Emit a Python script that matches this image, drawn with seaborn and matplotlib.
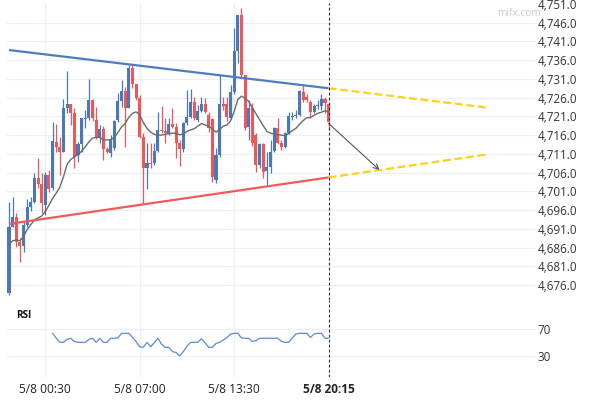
import numpy as np
import pandas as pd
import matplotlib
matplotlib.use("Agg")
import matplotlib.pyplot as plt
import seaborn as sns

# ---------------- data ----------------
time_labels = ["5/8 00:30", "5/8 07:00", "5/8 13:30", "5/8 20:15"]
label_bars = [10, 36, 62, 88]

opens = [4673.9, 4691.6, 4694.1, 4687.5, 4686.4, 4692.0, 4696.9, 4698.2, 4704.5, 4703.0,
         4697.3, 4705.3, 4701.8, 4714.2, 4712.9, 4711.6, 4723.2, 4724.2, 4721.8, 4710.7,
         4713.6, 4720.3, 4720.5, 4725.4, 4720.0, 4715.2, 4717.5, 4712.2, 4711.1, 4712.6,
         4720.0, 4725.1, 4727.8, 4723.3, 4734.0, 4729.6, 4726.0, 4715.6, 4707.1, 4708.6,
         4708.5, 4711.8, 4717.4, 4717.1, 4716.5, 4718.9, 4718.2, 4713.8, 4712.3, 4719.2,
         4720.9, 4724.8, 4720.0, 4722.4, 4724.3, 4721.4, 4720.2, 4704.0, 4710.7, 4724.3,
         4724.3, 4720.5, 4727.6, 4738.4, 4748.1, 4732.0, 4718.2, 4723.2, 4716.0, 4708.0,
         4713.6, 4706.5, 4707.6, 4711.8, 4717.8, 4713.8, 4712.9, 4716.5, 4720.8, 4721.1,
         4721.4, 4727.6, 4726.3, 4724.9, 4722.2, 4723.7, 4723.8, 4725.6, 4724.3]
highs = [4698.2, 4699.6, 4695.2, 4688.5, 4692.9, 4698.9, 4699.6, 4705.8, 4709.8, 4705.9,
         4706.2, 4706.7, 4719.6, 4719.0, 4715.6, 4725.6, 4733.1, 4724.3, 4723.2, 4714.2,
         4720.6, 4722.7, 4731.0, 4725.6, 4723.4, 4718.7, 4718.4, 4712.9, 4716.0, 4720.0,
         4727.3, 4730.7, 4728.8, 4734.7, 4734.7, 4729.6, 4726.7, 4716.5, 4713.8, 4713.8,
         4713.8, 4722.2, 4723.8, 4720.5, 4720.5, 4723.2, 4719.2, 4714.7, 4719.6, 4728.0,
         4728.2, 4726.3, 4724.0, 4726.3, 4726.0, 4722.2, 4720.6, 4712.6, 4732.0, 4726.2,
         4726.3, 4729.4, 4744.5, 4748.1, 4749.8, 4732.0, 4725.4, 4724.5, 4716.5, 4713.9,
         4713.8, 4711.6, 4714.7, 4718.2, 4720.5, 4714.7, 4716.9, 4722.2, 4722.2, 4722.7,
         4728.0, 4729.4, 4727.0, 4725.4, 4724.3, 4725.4, 4727.0, 4726.2, 4724.6]
lows = [4673.3, 4691.5, 4686.2, 4682.1, 4684.9, 4691.6, 4695.8, 4697.8, 4701.8, 4695.2,
        4694.7, 4700.9, 4701.4, 4711.6, 4705.3, 4711.5, 4721.8, 4718.7, 4707.2, 4708.9,
        4711.6, 4717.9, 4720.0, 4719.8, 4714.9, 4713.8, 4709.4, 4711.1, 4710.2, 4712.0,
        4719.6, 4723.6, 4712.9, 4723.2, 4728.5, 4725.4, 4715.2, 4697.6, 4701.5, 4707.1,
        4708.0, 4711.6, 4716.6, 4713.8, 4716.0, 4717.9, 4709.8, 4707.8, 4711.6, 4718.7,
        4720.6, 4720.0, 4719.5, 4722.2, 4721.9, 4716.9, 4703.6, 4703.2, 4710.2, 4722.7,
        4719.8, 4720.3, 4727.1, 4735.2, 4731.5, 4717.4, 4714.7, 4713.1, 4706.2, 4707.2,
        4704.6, 4702.7, 4705.9, 4711.5, 4713.6, 4712.0, 4712.6, 4716.3, 4720.0, 4720.5,
        4721.1, 4724.8, 4724.8, 4720.5, 4721.9, 4723.0, 4722.7, 4721.9, 4717.4]
closes = [4691.6, 4694.1, 4687.5, 4686.4, 4692.0, 4696.7, 4698.2, 4704.5, 4703.0, 4697.8,
          4705.3, 4701.6, 4714.4, 4712.9, 4711.6, 4723.2, 4724.2, 4721.8, 4710.2, 4713.6,
          4720.5, 4720.6, 4725.4, 4720.5, 4715.6, 4717.5, 4712.2, 4711.6, 4714.9, 4719.8,
          4725.1, 4727.8, 4723.3, 4734.0, 4729.6, 4726.0, 4715.6, 4707.1, 4708.5, 4708.3,
          4711.8, 4717.4, 4717.1, 4716.5, 4718.9, 4718.2, 4713.8, 4712.3, 4719.2, 4720.9,
          4724.8, 4720.5, 4722.4, 4724.3, 4722.2, 4717.8, 4704.9, 4710.7, 4724.3, 4723.8,
          4720.9, 4727.6, 4738.4, 4748.1, 4732.0, 4717.8, 4723.2, 4713.8, 4708.0, 4713.6,
          4706.2, 4707.6, 4711.6, 4717.8, 4713.8, 4712.9, 4716.5, 4721.1, 4721.1, 4721.4,
          4727.8, 4725.4, 4725.4, 4722.2, 4723.8, 4724.0, 4725.6, 4724.5, 4719.6]
ma_line = [4686.8, 4687.8, 4688.0, 4687.8, 4688.9, 4690.8, 4692.1, 4693.4, 4693.9, 4694.4,
           4695.6, 4697.3, 4699.1, 4700.5, 4702.1, 4704.9, 4708.2, 4709.5, 4710.2, 4710.8,
           4711.7, 4712.9, 4714.2, 4715.2, 4715.4, 4715.4, 4714.7, 4714.7, 4714.8, 4715.4,
           4716.7, 4718.2, 4719.1, 4720.8, 4721.8, 4722.2, 4721.4, 4719.3, 4717.8, 4716.8,
           4716.2, 4716.0, 4716.0, 4716.2, 4716.4, 4716.5, 4716.5, 4716.1, 4716.3, 4717.0,
           4717.4, 4717.7, 4718.4, 4719.1, 4718.7, 4718.4, 4717.6, 4716.8, 4717.5, 4718.4,
           4718.7, 4719.8, 4722.3, 4725.5, 4726.4, 4725.8, 4725.0, 4723.3, 4721.7, 4720.1,
           4718.5, 4717.0, 4716.5, 4716.3, 4716.1, 4716.0, 4715.8, 4716.4, 4717.2, 4717.8,
           4718.9, 4719.9, 4720.6, 4720.7, 4721.3, 4721.8, 4722.1, 4722.5, 4722.2]

rsi_first_bar = 12
rsi_values = [64, 57, 50.7, 50.7, 55, 56.7, 52, 50.7, 50.7, 50.7,
              55, 56.7, 50.7, 56.7, 50.7, 50.7, 56.7, 56.7, 57.5, 64,
              64, 64, 58, 51.5, 44, 43.3, 50.7, 44, 50, 56.7,
              48, 43.3, 43.3, 37, 35.5, 30.5, 37, 45, 50.7, 50.7,
              50.7, 56, 50, 43.3, 43.3, 49, 50.7, 54, 57.8, 63,
              64, 64, 57, 56.7, 56.7, 52, 53, 56.7, 56.7, 56.7,
              56.7, 56.7, 56.7, 52, 50.7, 50.7, 57, 63, 64, 64,
              64, 58, 63, 64, 64, 56.7, 56.7]

upper_trend_x = [0, 88]
upper_trend_y = [4738.7, 4728.5]
upper_proj_x = [88, 132]
upper_proj_y = [4728.5, 4723.3]
lower_trend_x = [0, 88]
lower_trend_y = [4692.3, 4704.7]
lower_proj_x = [88, 132]
lower_proj_y = [4704.7, 4710.9]
arrow_start = (88, 4719.1)
arrow_end = (102, 4706.7)

price_ticks = [4676.0, 4681.0, 4686.0, 4691.0, 4696.0, 4701.0, 4706.0, 4711.0,
               4716.0, 4721.0, 4726.0, 4731.0, 4736.0, 4741.0, 4746.0, 4751.0]
rsi_ticks = [30, 70]

# ---------------- style ----------------
sns.set_theme(style="white")
plt.rcParams['font.family'] = ['Open Sans', 'DejaVu Sans']

UP = '#4a78b8'
DOWN = '#ef5656'
GRID = '#ecf0f4'
TXT = '#333333'

W, H = 590, 400
fig = plt.figure(figsize=(W / 100, H / 100), dpi=100)
ax = fig.add_axes([7 / W, 1 - 300 / H, 529 / W, 297 / H])
ax2 = fig.add_axes([7 / W, 1 - 377 / H, 529 / W, 77 / H])

xlim = (-0.55, 145.1)

df = pd.DataFrame({"bar": np.arange(len(opens)), "open": opens, "high": highs,
                   "low": lows, "close": closes, "ma": ma_line})
df["color"] = np.where(df["close"] >= df["open"], UP, DOWN)

# ---------------- main panel ----------------
ax.set_xlim(*xlim)
ax.set_ylim(4671.99, 4751.26)
ax.set_yticks(price_ticks)
ax.set_yticklabels([f"{v:,.1f}" for v in price_ticks])
ax.yaxis.tick_right()
ax.tick_params(axis='y', length=0, pad=1.2, labelsize=8.4, colors=TXT)
ax.set_xticks(label_bars)
ax.tick_params(axis='x', length=0, labelbottom=False)
ax.grid(True, color=GRID, lw=0.9)
ax.set_axisbelow(True)
for s in ax.spines.values():
    s.set_visible(False)
ax.yaxis.get_gridlines()[-1].set_visible(False)

ax.vlines(df["bar"], df["low"], df["high"], colors=df["color"], lw=0.9, zorder=2)
body_bottom = np.minimum(df["open"], df["close"])
body_h = np.maximum(np.abs(df["close"] - df["open"]), 0.3)
ax.bar(df["bar"], body_h, bottom=body_bottom, width=0.84, color=df["color"],
       lw=0, zorder=3)

sns.lineplot(data=df, x="bar", y="ma", ax=ax, color='#6a6a6a', lw=1.0,
             legend=False, zorder=4)

ax.plot(upper_trend_x, upper_trend_y, color='#4d7cc0', lw=1.6, zorder=5,
        solid_capstyle='butt')
ax.plot(lower_trend_x, lower_trend_y, color='#f05a5a', lw=1.6, zorder=5,
        solid_capstyle='butt')
ax.plot(upper_proj_x, upper_proj_y, color='#ffd21a', lw=1.6, zorder=5,
        dashes=(3.6, 1.6))
ax.plot(lower_proj_x, lower_proj_y, color='#ffd21a', lw=1.6, zorder=5,
        dashes=(3.6, 1.6))
ax.annotate('', xy=arrow_end, xytext=arrow_start,
            arrowprops=dict(arrowstyle='->', color='#555555', lw=0.8,
                            mutation_scale=9, shrinkA=0, shrinkB=0), zorder=6)
ax.axvline(88, color='#333333', lw=0.8, ls=(0, (2.5, 2)), zorder=6)
ax.set_xlabel('')
ax.set_ylabel('')

fig.text(541 / W, 1 - 13 / H, "mifx.com", ha='right', va='center',
         color='#c9c9c9', fontsize=7.3)

# ---------------- RSI panel ----------------
rsi_df = pd.DataFrame({"bar": np.arange(rsi_first_bar, rsi_first_bar + len(rsi_values)),
                       "rsi": rsi_values})
ax2.set_xlim(*xlim)
ax2.set_ylim(-0.7, 113.4)
ax2.set_yticks(rsi_ticks)
ax2.set_yticklabels([str(v) for v in rsi_ticks])
ax2.yaxis.tick_right()
ax2.tick_params(axis='y', length=0, pad=1.2, labelsize=8.4, colors=TXT)
ax2.set_xticks(label_bars)
ax2.set_xticklabels(time_labels)
ax2.tick_params(axis='x', length=0, pad=4.2, labelsize=8.6, colors='#222222')
ax2.get_xticklabels()[-1].set_fontweight('bold')
ax2.grid(True, color=GRID, lw=0.9)
ax2.set_axisbelow(True)
for s in ax2.spines.values():
    s.set_visible(False)

sns.lineplot(data=rsi_df, x="bar", y="rsi", ax=ax2, color='#5b8ad4', lw=0.9,
             legend=False)
ax2.axvline(88, color='#333333', lw=0.8, ls=(0, (2.5, 2)))
ax2.set_xlabel('')
ax2.set_ylabel('')

fig.text(16 / W, 1 - 315 / H, "RSI", ha='left', va='center', fontsize=7.2,
         fontweight='bold', color='#111111')

fig.savefig("out.png", dpi=100)
